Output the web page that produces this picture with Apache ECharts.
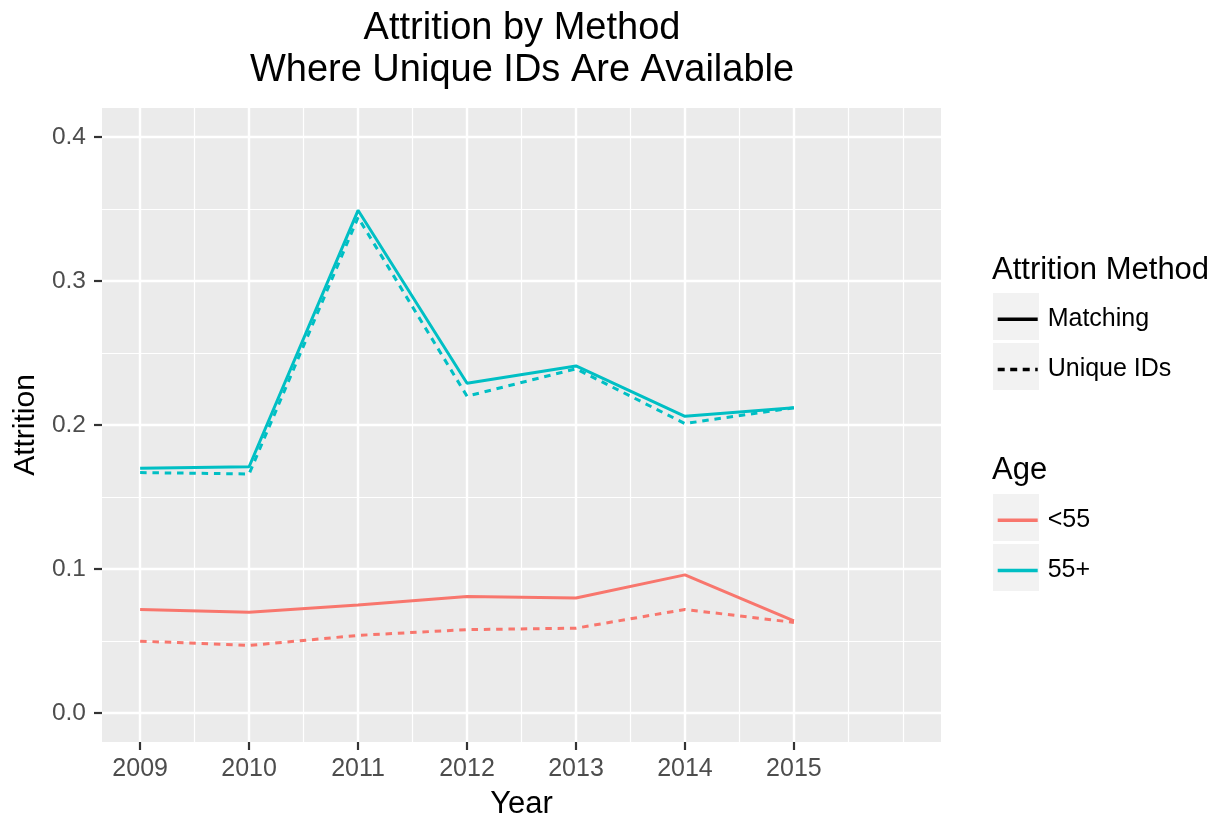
<!DOCTYPE html>
<html>
<head>
<meta charset="utf-8">
<title>Attrition by Method</title>
<script src="https://cdn.jsdelivr.net/npm/echarts@6/dist/echarts.min.js"></script>
<style>
  html, body { margin: 0; padding: 0; background: #fff; }
  #chart { width: 1222px; height: 819px; }
</style>
</head>
<body>
<div id="chart"></div>
<script>
// values
const years = [2009, 2010, 2011, 2012, 2013, 2014, 2015]
const under55Matching = [0.072, 0.070, 0.075, 0.081, 0.080, 0.096, 0.064]
const under55Unique = [0.050, 0.047, 0.054, 0.058, 0.059, 0.072, 0.063]
const over55Matching = [0.170, 0.171, 0.349, 0.229, 0.241, 0.206, 0.212]
const over55Unique = [0.167, 0.166, 0.344, 0.220, 0.239, 0.201, 0.212]

const xMajor = [2009, 2010, 2011, 2012, 2013, 2014, 2015]
const xMinor = [2009.5, 2010.5, 2011.5, 2012.5, 2013.5, 2014.5, 2015.5, 2016]
const yMajor = [0, 0.1, 0.2, 0.3, 0.4]
const yMinor = [0.05, 0.15, 0.25, 0.35]

const RED = '#F8766D'
const CYAN = '#00BFC4'
const FONT = 'Liberation Sans, Arial, sans-serif'
const DASH = [6.5, 5.8]

const pairs = vals => years.map((y, i) => [y, vals[i]])

const chart = echarts.init(document.getElementById('chart'))

function lineSeries (name, vals, color, type) {
  return {
    name: name,
    type: 'line',
    data: vals ? pairs(vals) : [],
    symbol: 'none',
    silent: true,
    z: 3,
    lineStyle: { color: color, width: 3, type: type },
    itemStyle: { color: color }
  }
}

// grey key boxes behind the legend entries (ggplot style)
const keyBoxes = [293, 343, 494, 544].map(top => ({
  type: 'rect',
  shape: { x: 993, y: top, width: 46, height: 47 },
  style: { fill: '#F2F2F2' },
  z: -1
}))

// the legend icon box is 0.8 * itemHeight tall, so the gap makes up the rest
const legendBase = {
  orient: 'vertical', left: 996, padding: 0,
  itemWidth: 40, itemHeight: 47, itemGap: 12.6,
  selectedMode: false,
  itemStyle: { opacity: 0 },
  lineStyle: { width: 3.4 },
  textStyle: { fontSize: 25, color: '#000', fontFamily: FONT, padding: [0, 0, 0, 5] }
}

chart.setOption({
  animation: false,
  textStyle: { fontFamily: FONT },
  title: {
    text: 'Attrition by Method\nWhere Unique IDs Are Available',
    left: 522,
    top: 8,
    padding: 0,
    textAlign: 'center',
    textStyle: { fontSize: 38, fontWeight: 'normal', color: '#000', lineHeight: 42, fontFamily: FONT }
  },
  grid: {
    left: 102, right: 281, top: 108, height: 634,
    outerBoundsMode: 'none',
    show: true, backgroundColor: '#EBEBEB', borderWidth: 0
  },
  xAxis: [
    {
      type: 'value', min: 2008.65, max: 2016.35,
      name: 'Year', nameLocation: 'middle', nameGap: 47,
      nameTextStyle: { fontSize: 31, color: '#000', fontFamily: FONT },
      axisLine: { show: false, onZero: false },
      axisTick: { show: true, length: 8, lineStyle: { color: '#333', width: 2.2 }, customValues: xMajor },
      axisLabel: { fontSize: 25, color: '#4D4D4D', margin: 15, customValues: xMajor, formatter: v => String(v) },
      splitLine: { show: true, lineStyle: { color: '#fff', width: 2.4 } }
    },
    {
      type: 'value', min: 2008.65, max: 2016.35, position: 'bottom',
      axisLine: { show: false, onZero: false },
      axisTick: { show: false, customValues: xMinor },
      axisLabel: { show: false },
      splitLine: { show: true, lineStyle: { color: '#fff', width: 1.2 } }
    }
  ],
  yAxis: [
    {
      type: 'value', min: -0.02, max: 0.42,
      name: 'Attrition', nameLocation: 'middle', nameGap: 60, nameRotate: 90,
      nameTextStyle: { fontSize: 30, color: '#000', fontFamily: FONT },
      axisLine: { show: false, onZero: false },
      axisTick: { show: true, length: 8, lineStyle: { color: '#333', width: 2.2 }, customValues: yMajor },
      axisLabel: { fontSize: 24.5, color: '#4D4D4D', margin: 16, customValues: yMajor, formatter: v => v.toFixed(1) },
      splitLine: { show: true, lineStyle: { color: '#fff', width: 2.4 } }
    },
    {
      type: 'value', min: -0.02, max: 0.42, position: 'left',
      axisLine: { show: false, onZero: false },
      axisTick: { show: false, customValues: yMinor },
      axisLabel: { show: false },
      splitLine: { show: true, lineStyle: { color: '#fff', width: 1.2 } }
    }
  ],
  legend: [
    Object.assign({}, legendBase, { data: ['Matching', 'Unique IDs'], top: 300.5 }),
    Object.assign({}, legendBase, { data: ['<55', '55+'], top: 501.5 })
  ],
  graphic: keyBoxes.concat([
    {
      type: 'text', left: 992, top: 255,
      style: { text: 'Attrition Method', fontSize: 31, fill: '#000', fontFamily: FONT }
    },
    {
      type: 'text', left: 992, top: 455,
      style: { text: 'Age', fontSize: 31, fill: '#000', fontFamily: FONT }
    }
  ]),
  series: [
    lineSeries('<55 Matching', under55Matching, RED, 'solid'),
    lineSeries('<55 Unique IDs', under55Unique, RED, DASH),
    lineSeries('55+ Matching', over55Matching, CYAN, 'solid'),
    lineSeries('55+ Unique IDs', over55Unique, CYAN, DASH),
    // legend-only entries
    lineSeries('Matching', null, '#000', 'solid'),
    lineSeries('Unique IDs', null, '#000', [7, 5.5]),
    lineSeries('<55', null, RED, 'solid'),
    lineSeries('55+', null, CYAN, 'solid')
  ]
})
</script>
</body>
</html>
